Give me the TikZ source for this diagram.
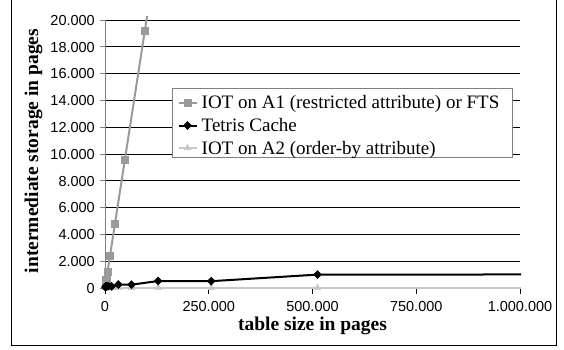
\documentclass[tikz,border=0pt]{standalone}
\usepackage{fontspec}
\setmainfont{Liberation Serif}
\newfontfamily\arialfont{Liberation Sans}
\usetikzlibrary{plotmarks}
\definecolor{seriesgray}{HTML}{9A9A9A}
\definecolor{seriessilver}{HTML}{C8C8C8}
\definecolor{axisgray}{HTML}{808080}
\begin{document}
\begin{tikzpicture}[x=1bp,y=-1bp,
  gridline/.style={black, line width=0.9bp},
  ticklab/.style={font=\arialfont\fontsize{14.5bp}{16bp}\selectfont, inner sep=0pt},
  axtitle/.style={font=\bfseries\fontsize{19.5bp}{22bp}\selectfont, inner sep=0pt},
  legtext/.style={font=\fontsize{19bp}{21bp}\selectfont, inner sep=0pt, anchor=base west},
  lineA/.style={seriesgray, line width=2bp},
  lineT/.style={black, line width=2bp},
  lineB/.style={seriessilver, line width=2.6bp},
  markA/.style={mark=square*, mark size=3.6bp, mark options={seriesgray, fill=seriesgray, line width=0.5bp}},
  markT/.style={mark=diamond*, mark size=4bp, mark options={black, fill=black, xscale=1.3, line width=0.5bp}},
  markB/.style={mark=triangle*, mark size=3.6bp, mark options={seriessilver, fill=seriessilver, line width=0.5bp}}]
\useasboundingbox (0,0) rectangle (564,349);

% outer frame
\draw[black, line width=1bp] (11.5,-2) -- (11.5,345) -- (556,345) -- (556,-2);

% horizontal gridlines, y axis ticks and labels
\foreach \v [count=\k from 0] in {0,2.000,4.000,6.000,8.000,10.000,12.000,14.000,16.000,18.000,20.000}{
  \pgfmathsetmacro{\yy}{288-\k*26.8}
  \ifnum\k>0 \draw[gridline] (105,\yy) -- (520,\yy); \fi
  \draw[axisgray, line width=0.9bp] (100,\yy) -- (105,\yy);
  \node[ticklab, anchor=base east] (ylab\k) at (95,\yy+5.2) {\v};
}
\draw[axisgray, line width=0.9bp] (105,20) -- (105,288);

% x axis, ticks and labels
\draw[black, line width=0.9bp] (105,288) -- (520,288);
\foreach \v [count=\k from 0] in {0,250.000,500.000,750.000,1.000.000}{
  \pgfmathsetmacro{\xx}{105+\k*103.75}
  \draw[black, line width=0.9bp] (\xx,288) -- (\xx,294);
  \node[ticklab, anchor=base] (xlab\k) at (\xx,311.5) {\v};
}

% axis titles
\node[axtitle, anchor=base] (xtitle) at (312.5,330) {table size in pages};
\node[axtitle, anchor=base, rotate=90] (ytitle) at (38,151) {intermediate storage in pages};

% data series (x in thousands of pages, y in thousands of pages)
\begin{scope}[shift={(105,288)}, x=0.415bp, y=13.4bp]
  % IOT on A2 (order-by attribute), lying on the x axis
  \draw[lineB] plot coordinates {(0,0.01) (1003,0.01)};
  \draw plot[only marks, markB] coordinates {(1,0.01) (2,0.01) (4,0.01) (8,0.01) (16,0.01) (32,0.01) (64,0.01) (128,0.01) (256,0.01) (512,0.01)};
  % IOT on A1 (restricted attribute) or FTS
  \draw[lineA] plot coordinates {(0,0) (1.5,0.3) (3,0.6) (6,1.2) (12,2.4) (24,4.8) (48,9.6) (96,19.2) (101.5,20.3)};
  \draw plot[only marks, markA] coordinates {(1.5,0.3) (3,0.6) (6,1.2) (12,2.4) (24,4.8) (48,9.6) (96,19.2)};
  % Tetris Cache
  \draw[lineT] plot coordinates {(0,0.02) (1,0.06) (2,0.14) (4,0.1) (8,0.14) (16,0.12) (32,0.26) (64,0.25) (128,0.52) (256,0.51) (512,1.0) (1003,1.01)};
  \draw plot[only marks, markT] coordinates {(1,0.06) (2,0.14) (4,0.1) (8,0.14) (16,0.12) (32,0.26) (64,0.25) (128,0.52) (256,0.51) (512,1.0)};
\end{scope}

% legend
\draw[axisgray, fill=white, line width=1bp] (172,88.5) rectangle (512,157);
\draw[lineA] (178.5,102.5) -- (196.5,102.5);
\draw plot[only marks, markA] coordinates {(187.5,102.5)};
\node[legtext] (legA) at (201.5,108.5) {IOT on A1 (restricted attribute) or FTS};
\draw[lineT] (178.5,125.5) -- (196.5,125.5);
\draw plot[only marks, markT] coordinates {(187.5,125.5)};
\node[legtext] (legT) at (201.5,131.5) {Tetris Cache};
\draw[lineB] (178.5,148) -- (196.5,148);
\draw plot[only marks, markB] coordinates {(187.5,148)};
\node[legtext] (legB) at (201.5,154) {IOT on A2 (order-by attribute)};
\end{tikzpicture}
\end{document}
